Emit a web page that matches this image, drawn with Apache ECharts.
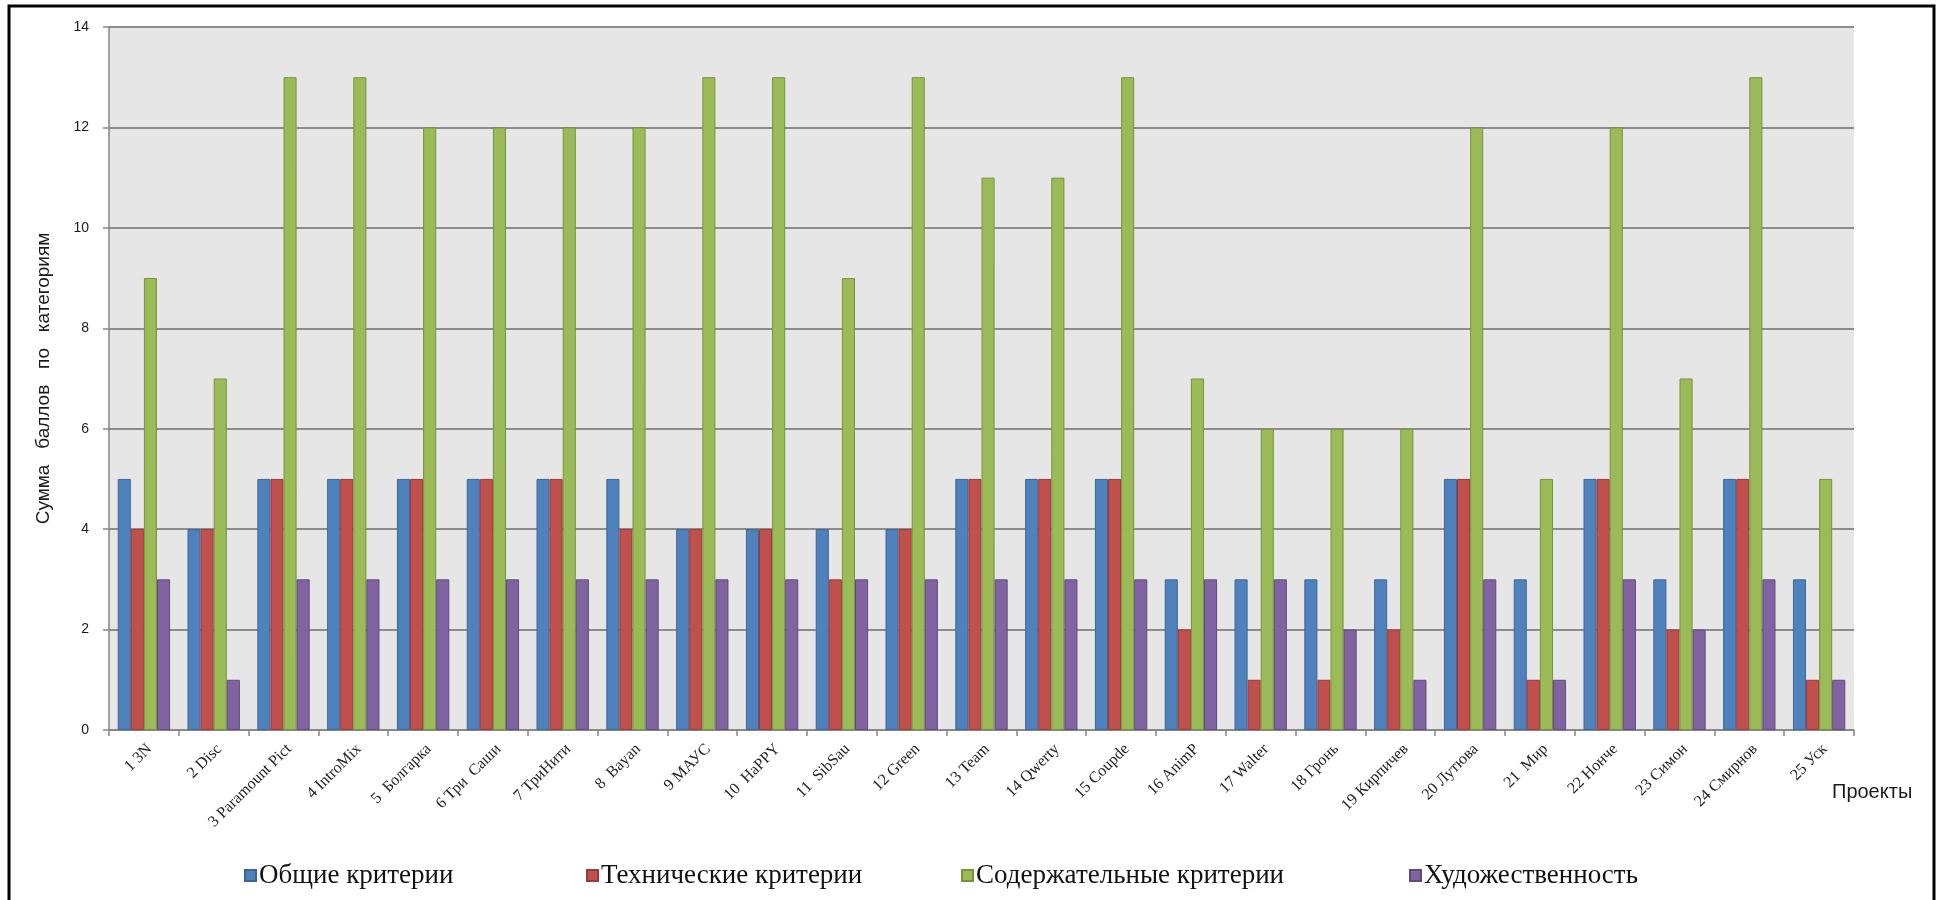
<!DOCTYPE html>
<html>
<head>
<meta charset="utf-8">
<script src="https://cdn.jsdelivr.net/npm/echarts@6/dist/echarts.min.js"></script>
<style>
  html, body { margin: 0; padding: 0; background: #ffffff; }
  #chart { width: 1939px; height: 900px; }
</style>
</head>
<body>
<div id="chart"></div>
<script>
// Projects (x axis categories)
const categories = [
  '1 3N', '2 Disc', '3 Paramount Pict', '4 IntroMix', '5  Болгарка',
  '6 Три  Саши', '7 ТриНити', '8  Bayan', '9 МАУС', '10  HaPPY',
  '11  SibSau', '12 Green', '13 Team', '14 Qwerty', '15 Coupde',
  '16 AnimP', '17 Walter', '18 Гронь', '19 Кирпичев', '20 Лутюва',
  '21  Мир', '22 Нонче', '23 Симон', '24 Смирнов', '25 Уск'
];

// Series names
const seriesNames = [
  'Общие критерии',
  'Технические критерии',
  'Содержательные критерии',
  'Художественность'
];

// Scores per project for each criterion group
const generalScores   = [5, 4, 5, 5, 5, 5, 5, 5, 4, 4, 4, 4, 5, 5, 5, 3, 3, 3, 3, 5, 3, 5, 3, 5, 3];
const technicalScores = [4, 4, 5, 5, 5, 5, 5, 4, 4, 4, 3, 4, 5, 5, 5, 2, 1, 1, 2, 5, 1, 5, 2, 5, 1];
const contentScores   = [9, 7, 13, 13, 12, 12, 12, 12, 13, 13, 9, 13, 11, 11, 13, 7, 6, 6, 6, 12, 5, 12, 7, 13, 5];
const artistryScores  = [3, 1, 3, 3, 3, 3, 3, 3, 3, 3, 3, 3, 3, 3, 3, 3, 3, 2, 1, 3, 1, 3, 2, 3, 1];

// Y axis range
const yMin = 0;
const yMax = 14;
const yStep = 2;

const seriesData = [generalScores, technicalScores, contentScores, artistryScores];
const fills   = ['#4F81BD', '#C0504D', '#9BBB59', '#8064A2'];
const borders = ['#3B6797', '#9A3B39', '#77933C', '#604A7B'];
const legendLeft = [239, 581, 956, 1404];

const chart = echarts.init(document.getElementById('chart'), null, { renderer: 'canvas' });

const option = {
  backgroundColor: '#ffffff',
  animation: false,
  graphic: [
    {
      type: 'rect',
      shape: { x: 9, y: 6, width: 1925, height: 910 },
      style: { fill: 'none', stroke: '#000000', lineWidth: 3 },
      z: 100
    }
  ],
  grid: {
    left: 109,
    right: 85,
    top: 27,
    bottom: 170,
    show: true,
    backgroundColor: '#E6E6E6',
    borderWidth: 0
  },
  legend: seriesNames.map((name, i) => ({
    data: [name],
    left: legendLeft[i],
    top: 857,
    icon: 'rect',
    itemWidth: 11,
    itemHeight: 11,
    itemGap: 0,
    textStyle: {
      fontFamily: '"Liberation Serif", "DejaVu Serif", serif',
      fontSize: 27,
      color: '#111111',
      padding: [0, 0, 0, -2]
    }
  })),
  xAxis: {
    type: 'category',
    data: categories,
    boundaryGap: true,
    name: 'Проекты',
    nameLocation: 'end',
    nameGap: -22,
    nameTextStyle: {
      fontFamily: '"Liberation Sans", Arial, sans-serif',
      fontSize: 20,
      color: '#1a1a1a',
      align: 'left',
      verticalAlign: 'top',
      padding: [52, 0, 0, 0]
    },
    axisLine: { show: true, lineStyle: { color: '#868686', width: 1.5 } },
    axisTick: { show: true, alignWithLabel: false, length: 6, lineStyle: { color: '#868686', width: 1.5 } },
    axisLabel: {
      rotate: 45,
      interval: 0,
      margin: 11,
      verticalAlign: 'top',
      fontFamily: '"Liberation Serif", "DejaVu Serif", serif',
      fontSize: 16,
      color: '#222222'
    },
    splitLine: { show: false }
  },
  yAxis: {
    type: 'value',
    min: yMin,
    max: yMax,
    interval: yStep,
    name: 'Сумма   баллов   по   категориям',
    nameLocation: 'middle',
    nameRotate: 90,
    nameGap: 56,
    nameTextStyle: {
      fontFamily: '"Liberation Sans", Arial, sans-serif',
      fontSize: 19,
      color: '#1a1a1a'
    },
    axisLine: { show: true, lineStyle: { color: '#868686', width: 1.5 } },
    axisTick: { show: true, length: 6, lineStyle: { color: '#868686', width: 1.5 } },
    axisLabel: {
      margin: 20,
      fontFamily: '"Liberation Sans", Arial, sans-serif',
      fontSize: 14,
      color: '#1a1a1a'
    },
    splitLine: { show: true, lineStyle: { color: '#8C8C8C', width: 2 } }
  },
  series: seriesNames.map((name, i) => ({
    name: name,
    type: 'bar',
    data: seriesData[i],
    barGap: '0%',
    barCategoryGap: '25%',
    itemStyle: {
      color: fills[i],
      borderColor: borders[i],
      borderWidth: 1
    }
  }))
};

chart.setOption(option);
</script>
</body>
</html>
